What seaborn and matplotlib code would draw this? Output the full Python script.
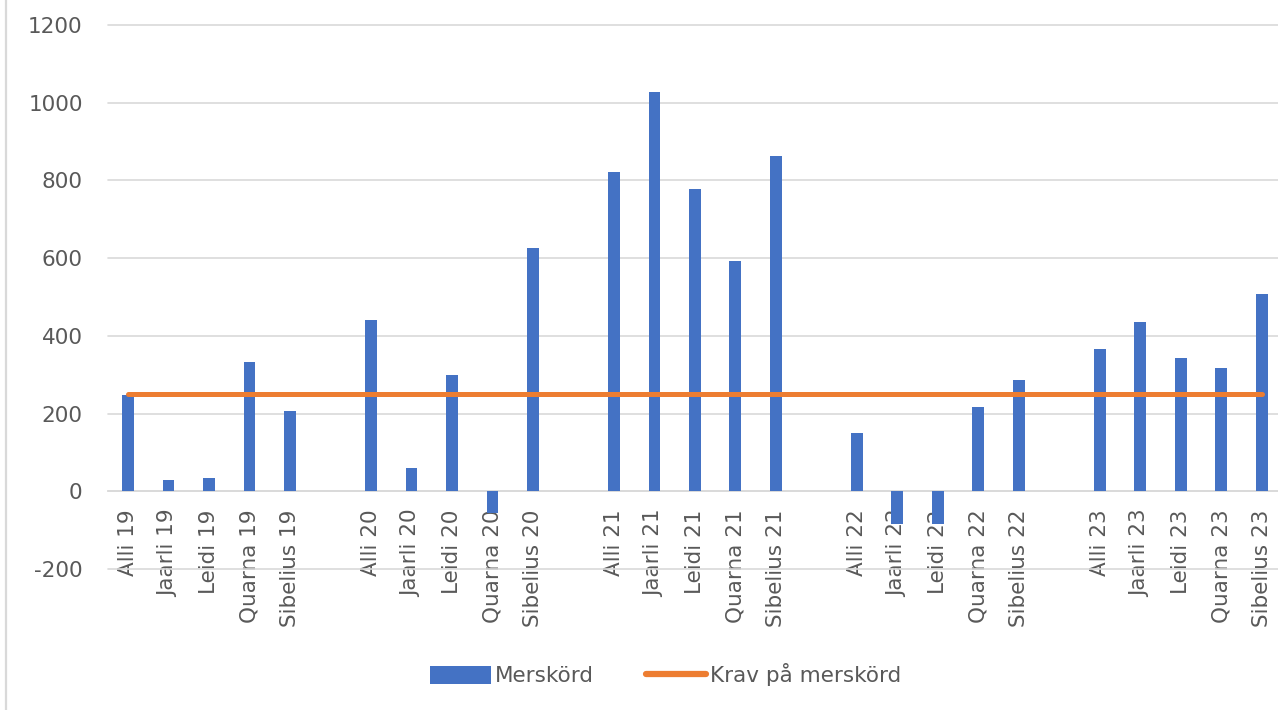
import numpy as np
import pandas as pd
import matplotlib
matplotlib.use("Agg")
import matplotlib.pyplot as plt
import seaborn as sns
from matplotlib.lines import Line2D
from matplotlib.patches import Rectangle

# ---- data ----
categories = [
    "Alli 19", "Jaarli 19", "Leidi 19", "Quarna 19", "Sibelius 19", " ",
    "Alli 20", "Jaarli 20", "Leidi 20", "Quarna 20", "Sibelius 20", "  ",
    "Alli 21", "Jaarli 21", "Leidi 21", "Quarna 21", "Sibelius 21", "   ",
    "Alli 22", "Jaarli 22", "Leidi 22", "Quarna 22", "Sibelius 22", "    ",
    "Alli 23", "Jaarli 23", "Leidi 23", "Quarna 23", "Sibelius 23",
]
merskord = [
    248, 29, 34, 332, 206, np.nan,
    442, 60, 298, -56, 627, np.nan,
    822, 1028, 779, 592, 864, np.nan,
    149, -84, -84, 218, 286, np.nan,
    366, 435, 343, 317, 508,
]
krav = [250] * len(categories)
y_ticks = [-200, 0, 200, 400, 600, 800, 1000, 1200]

df = pd.DataFrame({"kategori": categories, "Merskörd": merskord, "Krav": krav})

sns.set_theme(style="white")
plt.rcParams["font.family"] = ["DejaVu Sans"]

BLUE = "#4472C4"
ORANGE = "#ED7D31"
GRID = "#D9D9D9"
TEXT = "#595959"
FS = 15.5

fig = plt.figure(figsize=(12.78, 7.10), dpi=100)
ax = fig.add_axes([107.75 / 1278, 141 / 710, (1282 - 107.75) / 1278, (569 - 25) / 710])

sns.barplot(data=df, x="kategori", y="Merskörd", order=categories, color=BLUE,
            width=0.29, saturation=1, linewidth=0, ax=ax, label="Merskörd", zorder=2)
sns.lineplot(data=df, x="kategori", y="Krav", sort=False, color=ORANGE,
             linewidth=3.6, solid_capstyle="round", ax=ax,
             label="Krav på merskörd", zorder=3)

ax.set_xlim(-0.5, len(categories) - 0.5)
ax.set_ylim(-200, 1200)
ax.set_yticks(y_ticks)
ax.set_yticklabels([str(v) for v in y_ticks])
ax.set_xlabel("")
ax.set_ylabel("")

ax.yaxis.grid(True, color=GRID, linewidth=1.2, zorder=0)
ax.xaxis.grid(False)
ax.set_axisbelow(True)
for gl in ax.get_ygridlines():
    gl.set_clip_on(False)
for s in ["top", "right", "left"]:
    ax.spines[s].set_visible(False)
ax.spines["bottom"].set_position(("data", 0))
ax.spines["bottom"].set_color(GRID)
ax.spines["bottom"].set_linewidth(1.2)
ax.spines["bottom"].set_zorder(1)

ax.tick_params(axis="x", length=0, pad=13, labelsize=FS, labelcolor=TEXT, labelrotation=90)
ax.tick_params(axis="y", length=0, pad=18, labelsize=FS, labelcolor=TEXT)
for lab in ax.get_xticklabels():
    lab.set_va("top")
    lab.set_ha("center")

bar_handle = Rectangle((0, 0), 1, 1, facecolor=BLUE, edgecolor="none")
line_handle = Line2D([], [], color=ORANGE, linewidth=4.5, solid_capstyle="round")
leg = ax.legend([bar_handle, line_handle], ["Merskörd", "Krav på merskörd"],
                loc="center", bbox_to_anchor=(666 / 1278, 35 / 710),
                bbox_transform=fig.transFigure, ncol=2, frameon=False,
                fontsize=FS, handlelength=2.8, handleheight=0.85,
                handletextpad=0.2, columnspacing=2.4, labelcolor=TEXT)

fig.add_artist(Line2D([6 / 1278, 6 / 1278], [0, 1], transform=fig.transFigure,
                      color=GRID, linewidth=1.6))

fig.savefig("out.png", dpi=100)
